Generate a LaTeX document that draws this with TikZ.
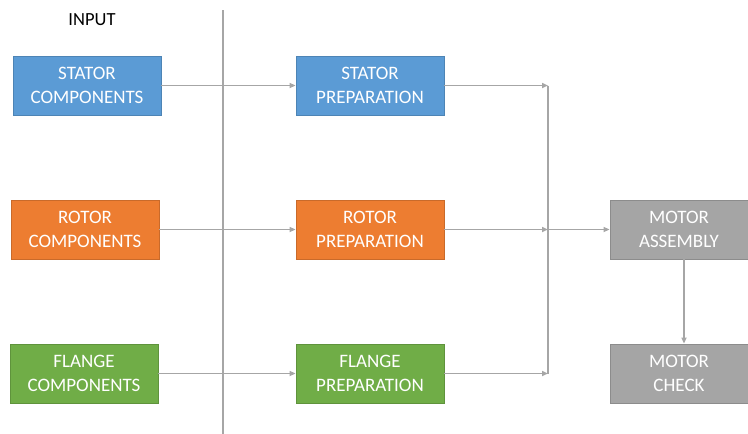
\documentclass[tikz,border=0pt]{standalone}
\usepackage{fontspec}
\setmainfont{Carlito}
\usetikzlibrary{arrows.meta}
\definecolor{cblue}{HTML}{5B9BD5}
\definecolor{corange}{HTML}{ED7D31}
\definecolor{cgreen}{HTML}{70AD47}
\definecolor{cgray}{HTML}{A5A5A5}
\definecolor{cline}{HTML}{A6A6A6}
\tikzset{
  box/.style={draw=#1!85!black, fill=#1, line width=0.8pt, minimum width=148pt, minimum height=59pt,
    text=white, align=center, font=\fontsize{19}{24}\selectfont, inner sep=0pt},
  conn/.style={draw=cline, line width=1.9pt},
  arr/.style={conn, -{Triangle[length=6pt,width=5pt]}}
}
\begin{document}
\begin{tikzpicture}[x=1pt,y=-1pt]
\useasboundingbox (0,0) rectangle (748,434);
\node[font=\fontsize{18.5}{22}\selectfont] (input) at (92,20) {INPUT};
\coordinate (vt) at (223,10);
\coordinate (vb) at (223,434);
\draw[conn] (vt) -- (vb);
\node[box=cblue] (sc) at (87,85.5) {STATOR\\COMPONENTS};
\node[box=cblue] (sp) at (370,85.5) {STATOR\\PREPARATION};
\node[box=corange] (rc) at (85,229.5) {ROTOR\\COMPONENTS};
\node[box=corange] (rp) at (370,229.5) {ROTOR\\PREPARATION};
\node[box=cgreen] (fc) at (84,373.5) {FLANGE\\COMPONENTS};
\node[box=cgreen] (fp) at (370,373.5) {FLANGE\\PREPARATION};
\node[box=cgray, minimum width=138pt] (ma) at (679,229.5) {MOTOR\\ASSEMBLY};
\node[box=cgray, minimum width=138pt] (mc) at (679,373.5) {MOTOR\\CHECK};
\coordinate (js) at (548,85.5);
\coordinate (jr) at (548,229.5);
\coordinate (jf) at (548,373.5);
\draw[arr] (sc) -- (sp);
\draw[arr] (rc) -- (rp);
\draw[arr] (fc) -- (fp);
\draw[conn] (js) -- (jf);
\draw[arr] (sp) -- (js);
\draw[arr] (rp) -- (jr);
\draw[arr] (fp) -- (jf);
\draw[arr] (jr) -- (ma);
\draw[arr] ([xshift=5pt]ma.south) -- ([xshift=5pt]mc.north);
\end{tikzpicture}
\end{document}
